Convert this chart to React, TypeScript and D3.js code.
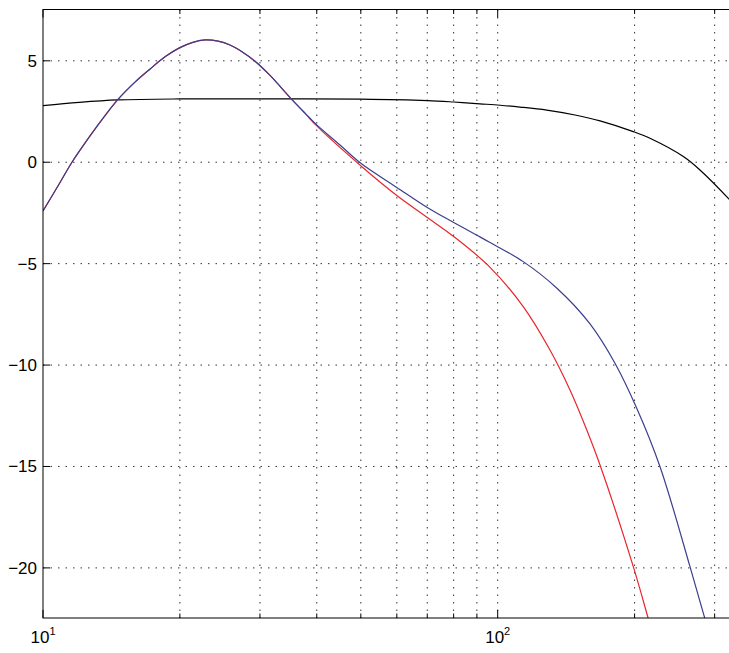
import React from "react";
import * as d3 from "d3";

// Frequencies (Hz) and responses (dB)
const blackFreq = [10, 12, 14.6, 20, 30, 50, 70, 80, 91.4, 101.2, 111.9, 128.2, 147.9, 167.9, 198.7, 216.2, 256, 278.5, 321.5, 349.9];
const blackVals = [2.79, 2.95, 3.07, 3.12, 3.12, 3.11, 3.04, 2.97, 2.88, 2.81, 2.72, 2.57, 2.33, 2.04, 1.51, 1.18, 0.28, -0.38, -1.78, -2.7];

const blueFreq = [10, 10.9, 11.58, 12.69, 13.69, 14.62, 15.93, 17.2, 18.55, 20, 21.27, 22.72, 24.26, 25.78, 27.39, 29.26, 31.57, 35.24, 37.7, 40, 45, 50, 60, 70, 80, 90, 96.2, 113.8, 134.8, 159.6, 181.1, 202.2, 227.5, 264.8, 285.7, 300.6];
const blueVals = [-2.4, -1.0, 0, 1.3, 2.3, 3.1, 3.95, 4.6, 5.2, 5.65, 5.9, 6.03, 5.97, 5.78, 5.45, 4.98, 4.28, 3.1, 2.42, 1.84, 0.85, -0.05, -1.24, -2.23, -2.97, -3.6, -3.96, -4.9, -6.2, -7.97, -9.91, -12.13, -15.01, -19.94, -22.52, -24.2];

const redFreq = [10, 10.9, 11.58, 12.69, 13.69, 14.62, 15.93, 17.2, 18.55, 20, 21.27, 22.72, 24.26, 25.78, 27.39, 29.26, 31.57, 35.24, 37.7, 40, 50.2, 60, 70.4, 79.9, 96.2, 113.8, 130.3, 144.2, 157, 167.9, 198.7, 214.5, 227.5];
const redVals = [-2.4, -1.0, 0, 1.3, 2.3, 3.1, 3.95, 4.6, 5.2, 5.65, 5.9, 6.03, 5.97, 5.78, 5.45, 4.98, 4.28, 3.1, 2.41, 1.79, -0.21, -1.64, -2.76, -3.65, -5.18, -7.12, -9.26, -11.23, -13.2, -14.93, -19.94, -22.52, -24.54];

const yTicks = [5, 0, -5, -10, -15, -20];
const xMajor = [10, 100];
const xMajorExp = ["1", "2"];
const xMinor = [20, 30, 40, 50, 60, 70, 80, 90, 200, 300];

const W = 729;
const H = 653;
const left = 43;
const top = 9.5;
const bottom = 618;
const decade = 454.7;
const fMax = 325;
const right = left + decade * Math.log10(fMax / 10);

export default function App() {
  const x = d3.scaleLog().domain([10, fMax]).range([left, right]);
  const y = d3.scaleLinear().domain([-22.47, 7.53]).range([bottom, top]);

  const line = d3
    .line<[number, number]>()
    .x((d) => x(d[0]))
    .y((d) => y(d[1]))
    .curve(d3.curveCatmullRom.alpha(0.5));

  const series = [
    { f: blackFreq, v: blackVals, color: "#000000" },
    { f: redFreq, v: redVals, color: "#e8262b" },
    { f: blueFreq, v: blueVals, color: "#3b3f8e" },
  ];

  const grid = "1.5,6";
  const font = "'Liberation Sans', Arial, Helvetica, sans-serif";

  return (
    <svg
      width={W}
      height={H}
      style={{ position: "absolute", left: 0, top: 0, background: "#fff" }}
      fontFamily={font}
    >
      <rect x={0} y={0} width={W} height={H} fill="#fff" />
      <defs>
        <clipPath id="plot">
          <rect x={left} y={top} width={right - left} height={bottom - top} />
        </clipPath>
      </defs>
      {yTicks.map((t) => (
        <line key={"gy" + t} x1={left} x2={right} y1={y(t)} y2={y(t)} stroke="#333" strokeWidth={1} strokeDasharray={grid} />
      ))}
      {[...xMinor, 100].map((t) => (
        <line key={"gx" + t} x1={x(t)} x2={x(t)} y1={top} y2={bottom} stroke="#333" strokeWidth={1} strokeDasharray={grid} />
      ))}
      <g clipPath="url(#plot)">
        {series.map((s, i) => (
          <path
            key={i}
            d={line(s.f.map((f, j) => [f, s.v[j]] as [number, number])) || ""}
            fill="none"
            stroke={s.color}
            strokeWidth={1.2}
          />
        ))}
      </g>
      <rect x={left} y={top} width={right - left} height={bottom - top} fill="none" stroke="#000" strokeWidth={1} />
      {yTicks.map((t) => (
        <g key={"ty" + t}>
          <line x1={left} x2={left + 7} y1={y(t)} y2={y(t)} stroke="#000" />
          <text x={37} y={y(t)} dy="0.35em" textAnchor="end" fontSize={17} fill="#000">
            {t < 0 ? "\u2212" + Math.abs(t) : String(t)}
          </text>
        </g>
      ))}
      {xMajor.map((t) => (
        <g key={"tx" + t}>
          <line x1={x(t)} x2={x(t)} y1={bottom} y2={bottom - 8} stroke="#000" />
          <line x1={x(t)} x2={x(t)} y1={top} y2={top + 8} stroke="#000" />
        </g>
      ))}
      {xMinor.map((t) => (
        <g key={"tm" + t}>
          <line x1={x(t)} x2={x(t)} y1={bottom} y2={bottom - 4.5} stroke="#000" />
          <line x1={x(t)} x2={x(t)} y1={top} y2={top + 4.5} stroke="#000" />
        </g>
      ))}
      {xMajor.map((t, i) => (
        <text key={"lx" + t} x={x(t)} y={643} textAnchor="middle" fontSize={17} fill="#000">
          <tspan>10</tspan>
          <tspan dy={-8} fontSize={11}>
            {xMajorExp[i]}
          </tspan>
        </text>
      ))}
    </svg>
  );
}
